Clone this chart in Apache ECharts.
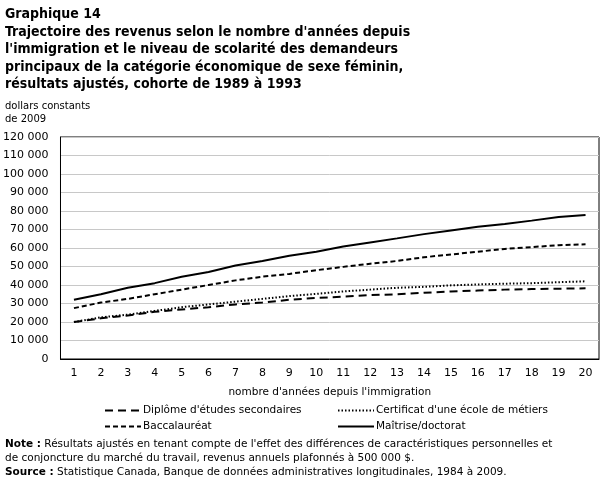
<!DOCTYPE html>
<html><head><meta charset="utf-8">
<script src="https://cdn.jsdelivr.net/npm/echarts@6/dist/echarts.min.js"></script>
<style>html,body{margin:0;padding:0;background:#fff}#c{width:606px;height:493px}</style>
</head><body><div id="c"></div>
<script>
const years = ['1','2','3','4','5','6','7','8','9','10','11','12','13','14','15','16','17','18','19','20'];
const yTicks = [0,10000,20000,30000,40000,50000,60000,70000,80000,90000,100000,110000,120000];
const secondaire = [20000,22000,23500,25500,26800,28000,29500,30500,32000,33000,33700,34500,35000,35800,36500,37000,37500,37800,38000,38200];
const certificat = [20000,22500,24000,26000,28000,29500,31000,32500,34000,35200,36500,37500,38500,39000,39800,40300,40700,41000,41500,42000];
const baccalaureat = [27500,30500,32500,35000,37500,40000,42500,44500,46000,48000,49800,51500,53000,55000,56500,58000,59500,60500,61500,62000];
const maitrise = [32000,35000,38500,41000,44500,47000,50500,53000,55800,58000,60800,63000,65200,67500,69500,71500,73000,74800,76800,77800];
const names = ["Diplôme d'études secondaires","Certificat d'une école de métiers","Baccalauréat","Maîtrise/doctorat"];

const font = 'DejaVu Sans';
const chart = echarts.init(document.getElementById('c'), null, {renderer:'canvas'});
function fmt(v){return String(v).replace(/\B(?=(\d{3})+(?!\d))/g,' ');}
function ser(name, data, type, width){
  return {name, type:'line', data, symbol:'none', showSymbol:false, smooth:false, animation:false,
    lineStyle:{color:'#000', width, type}, itemStyle:{color:'#000'}};
}
const legendCommon = {orient:'vertical', itemWidth:36, itemHeight:10, itemGap:5,
  itemStyle:{opacity:0},
  textStyle:{fontFamily:font, fontSize:10.5, color:'#000', padding:[0,0,0,-3]}, padding:0};
chart.setOption({
  animation:false,
  backgroundColor:'#fff',
  title:[
    {text:"Graphique 14\nTrajectoire des revenus selon le nombre d'années depuis\nl'immigration et le niveau de scolarité des demandeurs\nprincipaux de la catégorie économique de sexe féminin,\nrésultats ajustés, cohorte de 1989 à 1993",
     left:5, top:6, padding:0,
     textStyle:{fontFamily:'DejaVu Sans Condensed, DejaVu Sans', fontWeight:'bold', fontSize:14, lineHeight:17.5, color:'#000'}},
    {text:"dollars constants\nde 2009", left:5, top:100, padding:0,
     textStyle:{fontFamily:font, fontWeight:'normal', fontSize:10, lineHeight:13, color:'#000'}}
  ],
  grid:{left:58, right:7, top:137, bottom:134, show:true, borderColor:'#000', borderWidth:1, containLabel:false},
  xAxis:{type:'category', data:years, boundaryGap:true,
    axisLine:{lineStyle:{color:'#000'}},
    axisTick:{inside:true, length:5, lineStyle:{color:'#000'}},
    axisLabel:{fontFamily:font, fontSize:11, color:'#000', margin:9},
    name:"nombre d'années depuis l'immigration", nameLocation:'middle', nameGap:28,
    nameTextStyle:{fontFamily:font, fontSize:10.5, color:'#000'}},
  yAxis:{type:'value', min:0, max:120000, interval:10000,
    axisLine:{show:true, lineStyle:{color:'#000'}}, axisTick:{show:false},
    splitLine:{lineStyle:{color:'#c8c8c8', width:1}},
    axisLabel:{fontFamily:font, fontSize:11, color:'#000', margin:12,
      formatter:v=> yTicks.includes(v) ? fmt(v) : ''}},
  legend:[
    Object.assign({data:[names[0], names[2]], left:104, top:405}, legendCommon),
    Object.assign({data:[names[1], names[3]], left:337, top:405}, legendCommon)
  ],
  series:[
    ser(names[0], secondaire, [8,5], 2),
    ser(names[1], certificat, [1.5,2], 2),
    ser(names[2], baccalaureat, [5,3], 2),
    ser(names[3], maitrise, 'solid', 2)
  ],
  graphic:[
    {type:'text', left:5, top:437, style:{text:"{b|Note :} Résultats ajustés en tenant compte de l'effet des différences de caractéristiques personnelles et\nde conjoncture du marché du travail, revenus annuels plafonnés à 500 000 $.",
      rich:{b:{fontWeight:'bold', fontFamily:font, fontSize:10.5}}, fontFamily:font, fontSize:10.5, lineHeight:14, fill:'#000'}},
    {type:'text', left:5, top:467, style:{text:"{b|Source :} Statistique Canada, Banque de données administratives longitudinales, 1984 à 2009.",
      rich:{b:{fontWeight:'bold', fontFamily:font, fontSize:10.5}}, fontFamily:font, fontSize:10.5, fill:'#000'}}
  ]
});
</script></body></html>
